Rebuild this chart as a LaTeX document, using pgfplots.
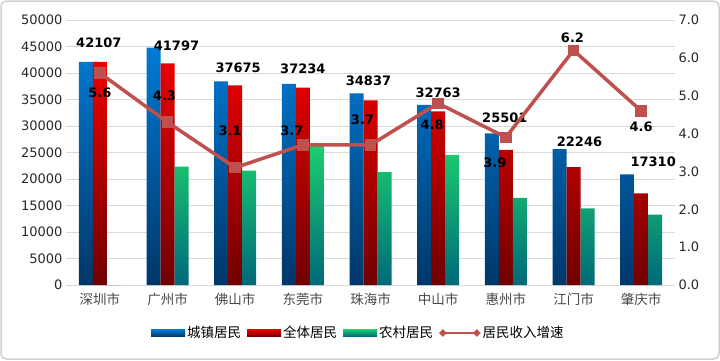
\documentclass[border=0pt]{standalone}
\usepackage{pgfplots}
\pgfplotsset{compat=1.18}
\usepackage{fontspec}
\setmainfont{DejaVu Sans}
\newfontfamily\cjk{Noto Sans CJK SC}
\definecolor{bluetop}{RGB}{0,122,212}
\definecolor{bluebot}{RGB}{0,55,105}
\definecolor{redtop}{RGB}{236,0,0}
\definecolor{redbot}{RGB}{112,0,0}
\definecolor{greentop}{RGB}{28,206,110}
\definecolor{greenbot}{RGB}{0,105,122}
\definecolor{linered}{RGB}{192,80,77}
\definecolor{gridgray}{RGB}{217,217,217}
\definecolor{txt}{RGB}{40,40,40}

\pgfplotstableread{
x y dx dy
0 42107 -1 19
1 41797 9 18
2 37675 3 18
3 37234 0 19
4 34837 -2 20
5 32763 0 19
6 25501 -1 32
7 22246 6 25
8 17310 12 31
}\allres

\pgfplotstableread{
x y lab dx dy
0 5.6 5.6 0 -20
1 4.3 4.3 -3 26
2 3.1 3.1 -5 37
3 3.7 3.7 -11 14
4 3.7 3.7 -8 25
5 4.8 4.8 -6 -21
6 3.9 3.9 -11 -25
7 6.2 6.2 -1 13
8 4.6 4.6 0 -16
}\growth

\begin{document}
\begin{tikzpicture}
\useasboundingbox (0pt,0pt) rectangle (720pt,360pt);
\draw[draw=black!18, line width=1.5pt, rounded corners=6pt] (1pt,1pt) rectangle (719pt,359pt);
\begin{axis}[
  at={(66pt,75pt)}, anchor=south west, scale only axis,
  width=609pt, height=265pt,
  xmin=-0.5, xmax=8.5, ymin=0, ymax=50000,
  ytick={0,5000,...,50000},
  scaled y ticks=false,
  xtick={0,...,8},
  xticklabels={深圳市,广州市,佛山市,东莞市,珠海市,中山市,惠州市,江门市,肇庆市},
  xticklabel style={font=\cjk\fontsize{13.5}{15}\selectfont, text=txt!85},
  yticklabel style={font=\fontsize{13}{15}\selectfont, text=txt,
    /pgf/number format/.cd, fixed, precision=0, 1000 sep={}},
  /pgf/number format/assume math mode=true,
  /pgf/number format/1000 sep={},
  axis x line*=bottom, axis y line*=left,
  axis line style={draw=none},
  tick style={draw=none},
  ymajorgrids, grid style={gridgray, line width=1pt},
  ybar=0pt, bar width=14pt,
  legend columns=4,
  legend style={draw=none, at={(0.48,-0.181)}, anchor=center,
    font=\cjk\fontsize{13.5}{15}\selectfont,
    /tikz/every even column/.append style={column sep=4pt}},
  legend cell align=left,
]
\addplot[draw=none, top color=bluetop, bottom color=bluebot,
  legend image code/.code={\fill[top color=bluetop, bottom color=bluebot] (0pt,-3.5pt) rectangle (34pt,3.5pt);}]
  coordinates {(0,42107) (1,44780) (2,38440) (3,37930) (4,36170) (5,33970) (6,28620) (7,25660) (8,20890)};
\addlegendentry{城镇居民}
\addplot[draw=none, top color=redtop, bottom color=redbot,
  nodes near coords,
  visualization depends on={\thisrow{dx} \as \rdx},
  visualization depends on={\thisrow{dy} \as \rdy},
  every node near coord/.append style={font=\bfseries\fontsize{13}{15}\selectfont, text=black,
    anchor=center, xshift=\rdx pt, yshift=\rdy pt},
  legend image code/.code={\fill[top color=redtop, bottom color=redbot] (0pt,-3.5pt) rectangle (34pt,3.5pt);}]
  table[x=x, y=y] {\allres};
\addlegendentry{全体居民}
\addplot[draw=none, top color=greentop, bottom color=greenbot,
  legend image code/.code={\fill[top color=greentop, bottom color=greenbot] (0pt,-3.5pt) rectangle (34pt,3.5pt);}]
  coordinates {(0,0) (1,22320) (2,21570) (3,26420) (4,21320) (5,24530) (6,16420) (7,14470) (8,13270)};
\addlegendentry{农村居民}
\addlegendimage{legend image code/.code={
  \draw[linered, line width=2pt] (0pt,0pt) -- (34pt,0pt);
  \fill[linered] (0pt,3.5pt) -- (3.5pt,0pt) -- (0pt,-3.5pt) -- (-3.5pt,0pt) -- cycle;
  \fill[linered] (34pt,3.5pt) -- (37.5pt,0pt) -- (34pt,-3.5pt) -- (30.5pt,0pt) -- cycle;}}
\addlegendentry{居民收入增速}
\end{axis}
\begin{axis}[
  at={(66pt,75pt)}, anchor=south west, scale only axis,
  width=609pt, height=265pt,
  xmin=-0.5, xmax=8.5, ymin=0, ymax=7,
  ytick={0,1,...,7},
  axis y line*=right, axis x line=none,
  axis line style={draw=none},
  tick style={draw=none},
  yticklabel style={font=\fontsize{13}{15}\selectfont, text=txt,
    /pgf/number format/.cd, fixed, fixed zerofill, precision=1},
  /pgf/number format/assume math mode=true,
]
\addplot[linered, line width=3.5pt, mark=square*, mark size=4pt,
  mark options={solid},
  point meta=explicit symbolic,
  nodes near coords,
  visualization depends on={\thisrow{dx} \as \mydx},
  visualization depends on={\thisrow{dy} \as \mydy},
  every node near coord/.append style={anchor=center, text=black,
    font=\bfseries\fontsize{13}{15}\selectfont, xshift=\mydx pt, yshift=\mydy pt},
] table[x=x, y=y, meta=lab] {\growth};
\end{axis}
\end{tikzpicture}
\end{document}
